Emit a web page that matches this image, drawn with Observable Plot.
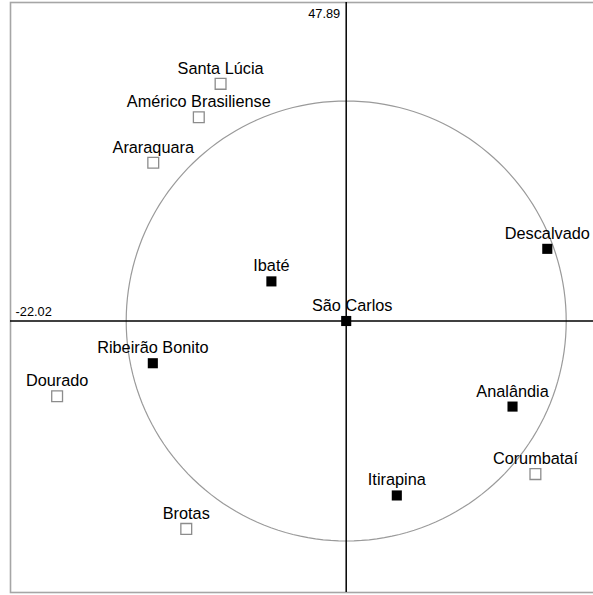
<!DOCTYPE html>
<html><head><meta charset="utf-8">
<script src="https://cdn.jsdelivr.net/npm/d3@7"></script>
<script src="https://cdn.jsdelivr.net/npm/@observablehq/plot@0.6"></script>
<style>body{margin:0;background:#fff;overflow:hidden}</style>
</head><body><div id="chart"></div>
<script>
// Municipalities (PCA scores, unit-circle scale)
const names = ["Santa Lúcia","Américo Brasiliense","Araraquara","Ibaté","São Carlos","Descalvado","Ribeirão Bonito","Dourado","Analândia","Corumbataí","Itirapina","Brotas"];
const xs    = [-0.571, -0.670, -0.877, -0.340, 0.000, 0.914, -0.879, -1.314, 0.756, 0.860, 0.230, -0.727];
const ys    = [ 1.078,  0.926,  0.719,  0.180, 0.000, 0.328, -0.192, -0.342, -0.389, -0.696, -0.793, -0.945];
const filled = [false, false, false, true, true, true, true, false, true, false, true, false];
// Axis tick labels
const topLabel = "47.89";
const leftLabel = "-22.02";

const data = names.map((n, i) => ({name: n, x: xs[i], y: ys[i], filled: filled[i]}));
const circle = d3.range(0, 361, 2).map(a => ({x: Math.cos(a * Math.PI / 180), y: Math.sin(a * Math.PI / 180)}));
const font = "'Liberation Sans', Arial, sans-serif";

const chart = Plot.plot({
  width: 593,
  height: 595,
  marginLeft: 10,
  marginRight: -10,
  marginTop: 2,
  marginBottom: 3,
  style: {fontFamily: font, background: "#fff"},
  x: {domain: [-1.5259, 1.1695], axis: null},
  y: {domain: [-1.2341, 1.4477], axis: null},
  marks: [
    Plot.frame({stroke: "#a6a6a6", strokeWidth: 1.6}),
    Plot.line(circle, {x: "x", y: "y", stroke: "#9a9a9a", strokeWidth: 1.2}),
    Plot.ruleX([0], {stroke: "#000", strokeWidth: 1.5}),
    Plot.ruleY([0], {stroke: "#000", strokeWidth: 1.5}),
    Plot.dot(data.filter(d => !d.filled), {x: "x", y: "y", symbol: "square", r: 6.1, fill: "#fff", stroke: "#8c8c8c", strokeWidth: 1.3}),
    Plot.dot(data.filter(d => d.filled), {x: "x", y: "y", symbol: "square", r: 5.7, fill: "#000", stroke: "none"}),
    Plot.text(data.filter(d => d.name !== "São Carlos"), {x: "x", y: "y", text: "name", lineAnchor: "bottom", dy: -10, fontSize: 16.3, fill: "#000"}),
    Plot.text(data.filter(d => d.name === "São Carlos"), {x: "x", y: "y", text: "name", lineAnchor: "bottom", dy: -10, dx: 6, fontSize: 16.3, fill: "#000"}),
    Plot.text([topLabel], {x: () => 0, text: d => d, frameAnchor: "top", textAnchor: "end", lineAnchor: "bottom", dx: -6, dy: 15.5, fontSize: 12.8, fill: "#000"}),
    Plot.text([leftLabel], {y: () => 0, text: d => d, frameAnchor: "left", textAnchor: "start", lineAnchor: "bottom", dx: 5, dy: -5, fontSize: 12.8, fill: "#000"})
  ]
});
document.getElementById("chart").append(chart);
</script>
</body></html>
